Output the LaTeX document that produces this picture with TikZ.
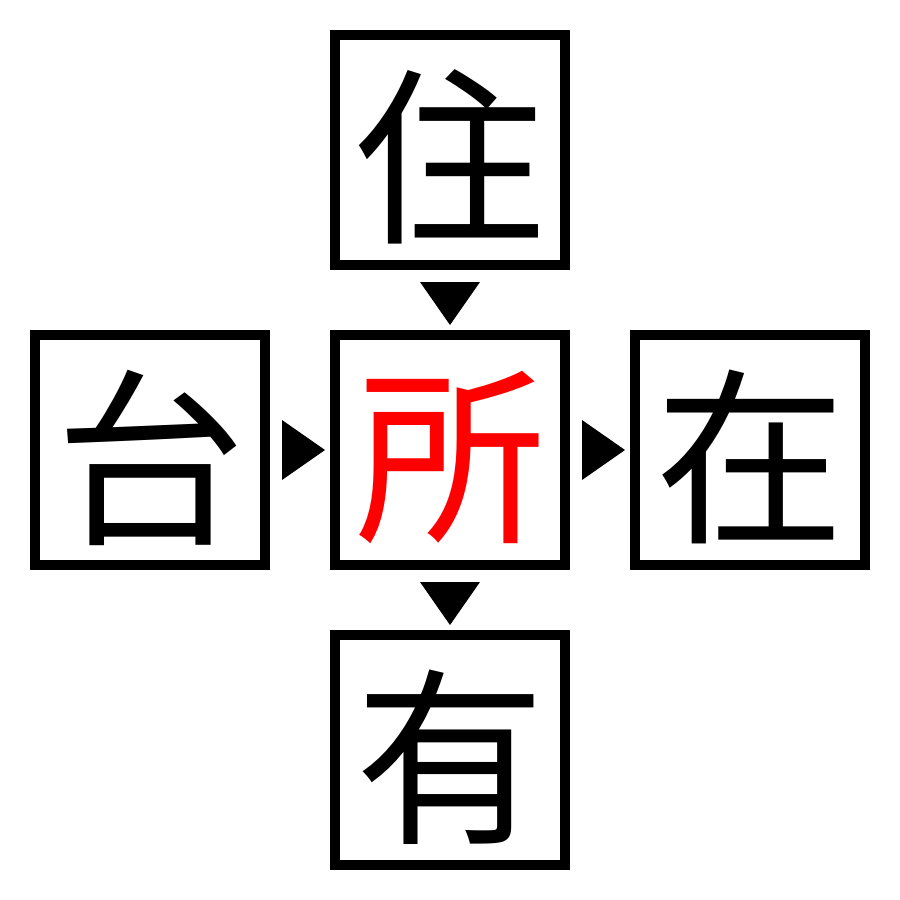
\documentclass[tikz,border=0pt]{standalone}
\usepackage{fontspec}
\newfontfamily\cjk{Noto Sans CJK JP}
\begin{document}
\begin{tikzpicture}[x=1pt,y=-1pt]
\tikzset{
  charbox/.style={draw=black, line width=10pt, minimum width=230pt, minimum height=230pt, inner sep=0pt, font=\cjk\fontsize{190}{190}\selectfont, text depth=0pt, anchor=center},
  arrowtri/.style={fill=black, draw=none}
}
\useasboundingbox (0,0) rectangle (900,900);
\node[charbox] (top) at (450,150) {住};
\node[charbox] (left) at (150,450) {台};
\node[charbox, text=red] (mid) at (450,450) {所};
\node[charbox] (right) at (750,450) {在};
\node[charbox] (bot) at (450,750) {有};
\fill[arrowtri] (420,282) -- (480,282) -- (450,325) -- cycle;
\fill[arrowtri] (420,582) -- (480,582) -- (450,625) -- cycle;
\fill[arrowtri] (282,420) -- (282,480) -- (325,450) -- cycle;
\fill[arrowtri] (582,420) -- (582,480) -- (625,450) -- cycle;
\end{tikzpicture}
\end{document}
